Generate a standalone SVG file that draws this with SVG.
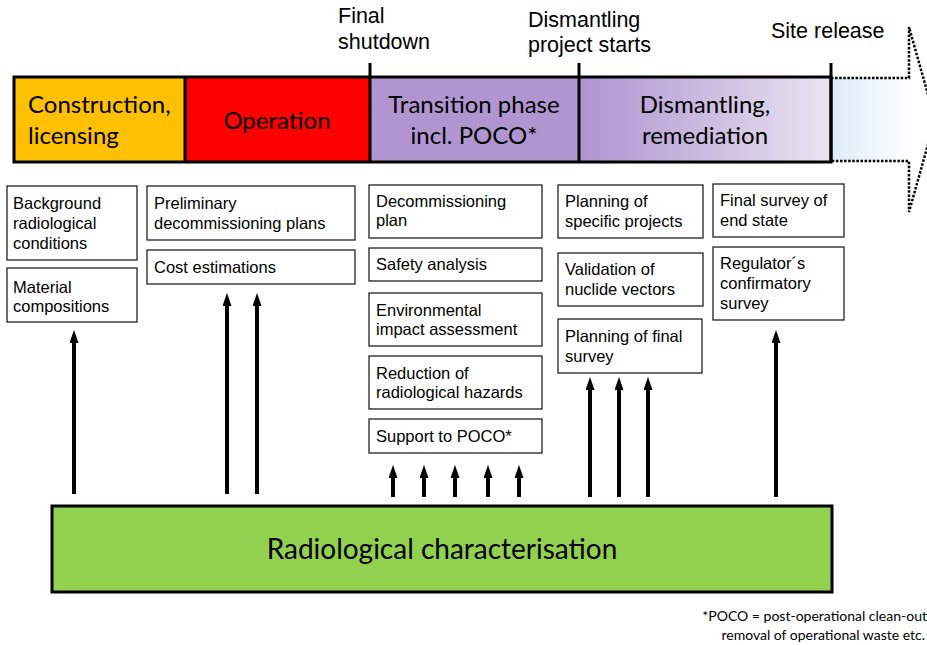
<svg xmlns="http://www.w3.org/2000/svg" width="927" height="645" viewBox="0 0 927 645">
<style>
.box{fill:#fff;stroke:#222;stroke-width:1.3}
.bt{font-family:"Liberation Sans",Arial,sans-serif;font-size:16.5px;fill:#000}
.top{font-family:"Liberation Sans",Arial,sans-serif;font-size:21.5px;fill:#000}
.ph{font-family:Lato,"Open Sans",sans-serif;font-size:24px;fill:#000;text-anchor:middle}
.arr{stroke:#000;stroke-width:4;fill:none;marker-end:url(#ah)}
.bar{stroke:#000;stroke-width:3}
</style>
<defs>
<marker id="ah" markerUnits="userSpaceOnUse" markerWidth="14" markerHeight="10" refX="2" refY="4.5" orient="auto">
<path d="M0,0 L13,4.5 L0,9 z" fill="#000"/>
</marker>
<linearGradient id="gDis" x1="579" y1="0" x2="831" y2="0" gradientUnits="userSpaceOnUse">
<stop offset="0" stop-color="#AF93D0"/>
<stop offset="1" stop-color="#E9E4F1"/>
</linearGradient>
<linearGradient id="gRel" x1="831" y1="0" x2="912" y2="0" gradientUnits="userSpaceOnUse">
<stop offset="0" stop-color="#DDEBF9"/>
<stop offset="1" stop-color="#FFFFFF"/>
</linearGradient>
</defs>
<rect width="927" height="645" fill="#fff"/>

<g id="site-release-arrow">
<path d="M831,78 H909 V27 L935,119.5 L909,212 V161 H831 Z" fill="url(#gRel)" stroke="none"/>
<path d="M831,78 H909 V27 L935,119.5 L909,212 V161 H831" fill="none" stroke="#000" stroke-width="2.5" stroke-dasharray="2.5 1.6"/>
</g>

<g id="timeline">
<rect x="14" y="77" width="171" height="85" fill="#FFC000"/>
<rect x="185" y="77" width="185" height="85" fill="#FF0000"/>
<rect x="370" y="77" width="209" height="85" fill="#B095D1"/>
<rect x="579" y="77" width="252" height="85" fill="url(#gDis)"/>
<rect x="14" y="77" width="817" height="85" fill="none" class="bar"/>
<line x1="185" y1="77" x2="185" y2="162" class="bar"/>
<line x1="370" y1="63" x2="370" y2="162" class="bar"/>
<line x1="579" y1="63" x2="579" y2="162" class="bar"/>
<line x1="831" y1="63" x2="831" y2="162" class="bar"/>
</g>

<g id="phase-construction"><text class="ph" x="28" y="113" style="text-anchor:start">Construction,</text><text class="ph" x="28" y="144" style="text-anchor:start">licensing</text></g>
<g id="phase-operation"><text class="ph" x="277" y="129">Operation</text></g>
<g id="phase-transition"><text class="ph" x="474" y="113">Transition phase</text><text class="ph" x="474" y="144">incl. POCO*</text></g>
<g id="phase-dismantling"><text class="ph" x="705" y="113">Dismantling,</text><text class="ph" x="705" y="144">remediation</text></g>

<g id="milestone-final-shutdown"><text class="top" x="338" y="23">Final</text><text class="top" x="338" y="49">shutdown</text></g>
<g id="milestone-dismantling"><text class="top" x="528" y="27">Dismantling</text><text class="top" x="528" y="52">project starts</text></g>
<g id="milestone-site-release"><text class="top" x="771" y="38">Site release</text></g>

<g id="n-background"><rect class="box" x="7" y="186" width="130" height="74"/><text class="bt" x="13" y="209">Background</text><text class="bt" x="13" y="229">radiological</text><text class="bt" x="13" y="248.5">conditions</text></g>
<g id="n-material"><rect class="box" x="7" y="268" width="130" height="54"/><text class="bt" x="13" y="292.5">Material</text><text class="bt" x="13" y="312">compositions</text></g>
<g id="n-preliminary"><rect class="box" x="147" y="186" width="208" height="54"/><text class="bt" x="154" y="209">Preliminary</text><text class="bt" x="154" y="229">decommissioning plans</text></g>
<g id="n-cost"><rect class="box" x="147" y="250" width="208" height="34"/><text class="bt" x="154" y="273">Cost estimations</text></g>
<g id="n-decomplan"><rect class="box" x="369" y="185" width="173" height="53"/><text class="bt" x="376" y="207">Decommissioning</text><text class="bt" x="376" y="226">plan</text></g>
<g id="n-safety"><rect class="box" x="369" y="248" width="173" height="33"/><text class="bt" x="376" y="270">Safety analysis</text></g>
<g id="n-eia"><rect class="box" x="369" y="293" width="173" height="53"/><text class="bt" x="376" y="316">Environmental</text><text class="bt" x="376" y="335">impact assessment</text></g>
<g id="n-reduction"><rect class="box" x="369" y="356" width="173" height="53"/><text class="bt" x="376" y="379">Reduction of</text><text class="bt" x="376" y="398">radiological hazards</text></g>
<g id="n-support"><rect class="box" x="369" y="419" width="173" height="34"/><text class="bt" x="376" y="442">Support to POCO*</text></g>
<g id="n-specific"><rect class="box" x="558" y="185" width="145" height="53"/><text class="bt" x="565" y="207">Planning of</text><text class="bt" x="565" y="227">specific projects</text></g>
<g id="n-nuclide"><rect class="box" x="558" y="253" width="145" height="53"/><text class="bt" x="565" y="275">Validation of</text><text class="bt" x="565" y="295">nuclide vectors</text></g>
<g id="n-finalplan"><rect class="box" x="558" y="319" width="144" height="54"/><text class="bt" x="565" y="342">Planning of final</text><text class="bt" x="565" y="362">survey</text></g>
<g id="n-endstate"><rect class="box" x="713" y="184" width="131" height="53"/><text class="bt" x="720" y="206">Final survey of</text><text class="bt" x="720" y="226">end state</text></g>
<g id="n-regulator"><rect class="box" x="713" y="247" width="131" height="73"/><text class="bt" x="720" y="269">Regulator´s</text><text class="bt" x="720" y="289">confirmatory</text><text class="bt" x="720" y="309">survey</text></g>

<g id="n-characterisation"><rect x="52" y="506" width="780" height="86" fill="#92D050" stroke="#000" stroke-width="3"/><text x="442" y="559" font-family="Lato,'Open Sans',sans-serif" font-size="28" text-anchor="middle" fill="#000">Radiological characterisation</text></g>

<g id="connectors">
<line class="arr" x1="74" y1="494" x2="74" y2="341"/>
<line class="arr" x1="227" y1="494" x2="227" y2="304"/>
<line class="arr" x1="257" y1="494" x2="257" y2="304"/>
<line class="arr" x1="393" y1="497" x2="393" y2="476"/>
<line class="arr" x1="424" y1="497" x2="424" y2="476"/>
<line class="arr" x1="455" y1="497" x2="455" y2="476"/>
<line class="arr" x1="488" y1="497" x2="488" y2="476"/>
<line class="arr" x1="519" y1="497" x2="519" y2="476"/>
<line class="arr" x1="590" y1="497" x2="590" y2="388"/>
<line class="arr" x1="619" y1="497" x2="619" y2="388"/>
<line class="arr" x1="648" y1="497" x2="648" y2="388"/>
<line class="arr" x1="776" y1="497" x2="776" y2="341"/>
</g>

<g id="footnote" font-family="Lato,'Open Sans',sans-serif" font-size="14" fill="#000" text-anchor="end">
<text x="927" y="621">*POCO = post-operational clean-out</text>
<text x="925" y="640">removal of operational waste etc.</text>
</g>
</svg>
